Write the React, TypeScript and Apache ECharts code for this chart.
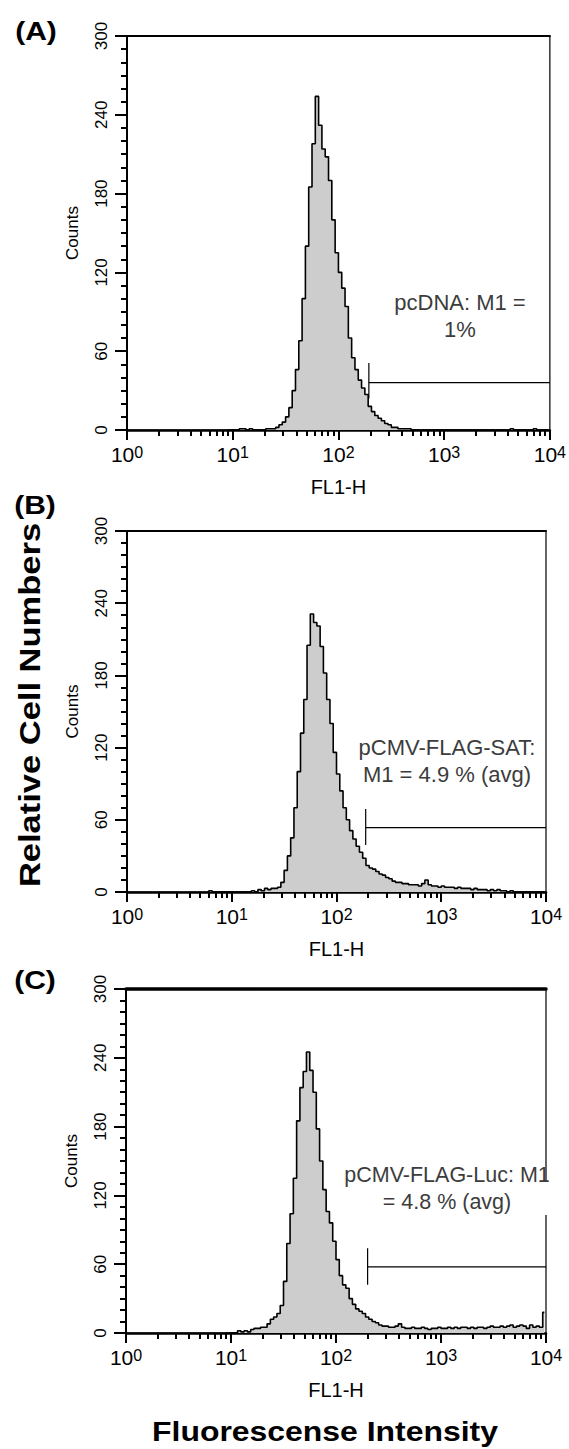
import React, { useEffect, useRef } from 'react';
import * as echarts from 'echarts';

// ---------- data ----------
const CHANNELS_PER_DECADE = 32; // histogram resolution (log channels)
const X_MIN = 1;
const X_MAX = 10000;
const X_MINOR_TICKS = [
  2, 3, 4, 5, 6, 7, 8, 9,
  20, 30, 40, 50, 60, 70, 80, 90,
  200, 300, 400, 500, 600, 700, 800, 900,
  2000, 3000, 4000, 5000, 6000, 7000, 8000, 9000,
];

// Panel A: pcDNA (first channel = 30)
const START_A = 30;
const COUNTS_A = [
  0, 0, 0, 0, 1, 1, 0, 1, 0, 0,
  0, 0, 1, 1, 1, 2, 4, 6, 10, 17,
  30, 46, 68, 100, 140, 185, 218, 254, 232, 214,
  208, 190, 160, 135, 120, 108, 94, 70, 55, 46,
  38, 32, 27, 18, 14, 11, 9, 7, 5, 4,
  2, 2, 1, 1, 1, 1, 0, 0, 0, 0,
  0, 0, 0, 0, 0, 0, 0, 0, 0, 0,
  0, 0, 0, 0, 0, 0, 0, 0, 0, 0,
  0, 0, 0, 0, 0, 0, 1, 0, 0, 0,
  0, 0, 0, 1, 0, 0, 0, 0,
];

// Panel B: pCMV-FLAG-SAT (first channel = 24)
const START_B = 24;
const COUNTS_B = [
  0, 1, 0, 0, 0, 0,
  0, 0, 0, 0, 0, 0, 0, 0, 1, 0,
  2, 1, 3, 2, 3, 3, 4, 8, 18, 30,
  45, 70, 100, 132, 160, 205, 231, 224, 221, 204,
  182, 160, 140, 116, 98, 84, 70, 60, 51, 44,
  38, 33, 28, 22, 20, 19, 17, 15, 14, 12,
  11, 9, 8, 8, 7, 7, 6, 6, 6, 5,
  7, 10, 6, 5, 5, 4, 5, 4, 4, 4,
  3, 4, 3, 3, 3, 2, 3, 2, 2, 2,
  1, 2, 1, 2, 1, 1, 0, 1, 0, 0,
  0, 0, 0, 0, 0, 0, 0, 0,
];

// Panel C: pCMV-FLAG-Luc (first channel = 30)
const START_C = 30;
const COUNTS_C = [
  0, 0, 0, 0, 2, 1, 2, 1, 3, 4,
  4, 5, 5, 8, 12, 14, 17, 24, 45, 78,
  104, 135, 185, 214, 228, 245, 229, 210, 178, 150,
  125, 106, 96, 80, 64, 50, 42, 39, 30, 25,
  21, 19, 17, 14, 12, 10, 9, 7, 6, 6,
  5, 5, 6, 8, 5, 4, 4, 5, 4, 4,
  5, 4, 3, 4, 4, 5, 4, 4, 5, 4,
  5, 4, 5, 5, 4, 5, 4, 5, 5, 4,
  5, 6, 5, 5, 6, 5, 6, 7, 5, 6,
  7, 6, 4, 7, 5, 6, 5, 18,
];

// M1 gate markers (start value, level, vertical bar low/high) per panel
const M1_START = [194, 190, 200];
const M1_LEVEL = [36, 53.5, 57.6];
const M1_LOW = [24, 39, 42];
const M1_HIGH = [51, 69, 74];

const PANEL_LETTERS = ['(A)', '(B)', '(C)'];
const PANEL_NOTES = [
  'pcDNA: M1 =\n1%',
  'pCMV-FLAG-SAT:\nM1 = 4.9 % (avg)',
  'pCMV-FLAG-Luc: M1\n= 4.8 % (avg)',
];
const Y_MAX = 300;
const Y_INTERVAL = 60;

// ---------- layout ----------
const FONT = '"Liberation Sans", Arial, Helvetica, sans-serif';
const GRIDS = [
  { left: 127, top: 36, width: 423, height: 394 },
  { left: 127, top: 531, width: 419, height: 361 },
  { left: 126, top: 989, width: 420, height: 344 },
];
const TOP_BORDER_W = [2, 2, 3.5];
const LETTER_POS = [[36, 31], [35, 505], [35, 980]];
const NOTE_POS = [[460, 316], [447, 761], [447, 1188]];
const NOTE_SIZE = [22, 22, 21.5];

function histData(start: number, counts: number[]) {
  return counts.map((c, k) => [Math.pow(10, (start + k + 0.5) / CHANNELS_PER_DECADE), c]);
}

function buildOption() {
  const starts = [START_A, START_B, START_C];
  const counts = [COUNTS_A, COUNTS_B, COUNTS_C];
  const grid: any[] = [];
  const xAxis: any[] = [];
  const yAxis: any[] = [];
  const series: any[] = [];
  const graphic: any[] = [];

  for (let i = 0; i < 3; i++) {
    grid.push({ ...GRIDS[i], show: true, borderColor: '#000', borderWidth: 1.2, containLabel: false });
    // main bottom axis (decades + labels)
    xAxis.push({
      type: 'log', logBase: 10, gridIndex: i, min: X_MIN, max: X_MAX, position: 'bottom',
      axisLine: { show: true, onZero: false, lineStyle: { color: '#000', width: 2.5 } },
      axisTick: { show: true, length: 10, lineStyle: { color: '#000', width: 2 } },
      splitLine: { show: false },
      axisLabel: {
        show: true, margin: 14, showMinLabel: true, showMaxLabel: true, hideOverlap: false,
        formatter: (v: number) => `{b|10}{s|${Math.round(Math.log10(v))}}`,
        rich: {
          b: { fontSize: 21, fontFamily: FONT, color: '#000', lineHeight: 21, verticalAlign: 'bottom' },
          s: { fontSize: 16, fontFamily: FONT, color: '#000', lineHeight: 16, verticalAlign: 'top', padding: [0, 0, 11, 0] },
        },
      },
      name: 'FL1-H', nameLocation: 'middle', nameGap: 47,
      nameTextStyle: { fontSize: 20, fontFamily: FONT, color: '#000' },
    });
    // minor log ticks
    xAxis.push({
      type: 'log', logBase: 10, gridIndex: i, min: X_MIN, max: X_MAX, position: 'bottom',
      axisLine: { show: false },
      axisTick: { show: true, length: 6, customValues: X_MINOR_TICKS, lineStyle: { color: '#000', width: 2 } },
      axisLabel: { show: false },
      splitLine: { show: false },
    });
    // top border
    xAxis.push({
      type: 'log', logBase: 10, gridIndex: i, min: X_MIN, max: X_MAX, position: 'top',
      axisLine: { show: true, onZero: false, lineStyle: { color: '#000', width: TOP_BORDER_W[i] } },
      axisTick: { show: false }, axisLabel: { show: false }, splitLine: { show: false },
    });
    yAxis.push({
      type: 'value', gridIndex: i, min: 0, max: Y_MAX, interval: Y_INTERVAL,
      axisLine: { show: true, onZero: false, lineStyle: { color: '#000', width: 2 } },
      axisTick: { show: true, length: 12, lineStyle: { color: '#000', width: 2 } },
      minorTick: { show: true, splitNumber: 6, length: 6, lineStyle: { color: '#000', width: 2 } },
      splitLine: { show: false }, minorSplitLine: { show: false },
      axisLabel: { rotate: 90, margin: 17, fontSize: 17, fontFamily: FONT, color: '#000' },
      name: 'Counts', nameLocation: 'middle', nameGap: 46, nameRotate: 90,
      nameTextStyle: { fontSize: 17, fontFamily: FONT, color: '#000' },
    });

    series.push({
      type: 'line', xAxisIndex: i * 3, yAxisIndex: i, step: 'middle', symbol: 'none', silent: true,
      data: histData(starts[i], counts[i]),
      lineStyle: { color: '#000', width: 1.6 },
      areaStyle: { color: '#cdcdcd', opacity: 1 },
      z: 3,
    });
    series.push({
      type: 'line', xAxisIndex: i * 3, yAxisIndex: i, symbol: 'none', silent: true,
      data: [[M1_START[i], M1_LEVEL[i]], [X_MAX, M1_LEVEL[i]]],
      lineStyle: { color: '#000', width: 1.2 }, z: 4,
    });
    series.push({
      type: 'line', xAxisIndex: i * 3, yAxisIndex: i, symbol: 'none', silent: true,
      data: [[M1_START[i], M1_LOW[i]], [M1_START[i], M1_HIGH[i]]],
      lineStyle: { color: '#000', width: 1.2 }, z: 4,
    });

    graphic.push({
      type: 'text', x: LETTER_POS[i][0], y: LETTER_POS[i][1], scaleX: 1.2,
      style: {
        text: PANEL_LETTERS[i], fontSize: 25, fontWeight: 'bold', fontFamily: FONT, fill: '#000',
        textAlign: 'center', textVerticalAlign: 'middle', align: 'center', verticalAlign: 'middle',
      },
    });
  }

  // white gap in panel C right border behind its note
  graphic.push({
    type: 'rect', shape: { x: 540, y: 1181, width: 12, height: 34 },
    style: { fill: '#fff' }, z: 10,
  });
  for (let i = 0; i < 3; i++) {
    graphic.push({
      type: 'text', x: NOTE_POS[i][0], y: NOTE_POS[i][1], z: 11,
      style: {
        text: PANEL_NOTES[i], fontSize: NOTE_SIZE[i], fontFamily: FONT, fill: '#3c3c3c',
        lineHeight: 27, textAlign: 'center', textVerticalAlign: 'middle', align: 'center', verticalAlign: 'middle',
      },
    });
  }
  graphic.push({
    type: 'text', x: 30, y: 705, rotation: Math.PI / 2, scaleX: 1.15,
    style: {
      text: 'Relative Cell Numbers', fontSize: 30, fontWeight: 'bold', fontFamily: FONT, fill: '#000',
      textAlign: 'center', textVerticalAlign: 'middle', align: 'center', verticalAlign: 'middle',
    },
  });
  graphic.push({
    type: 'text', x: 325, y: 1431, scaleX: 1.14,
    style: {
      text: 'Fluorescense Intensity', fontSize: 28, fontWeight: 'bold', fontFamily: FONT, fill: '#000',
      textAlign: 'center', textVerticalAlign: 'middle', align: 'center', verticalAlign: 'middle',
    },
  });

  return {
    animation: false,
    backgroundColor: '#fff',
    grid, xAxis, yAxis, series, graphic,
  };
}

export default function App() {
  const ref = useRef<HTMLDivElement>(null);
  useEffect(() => {
    document.body.style.margin = '0';
    const chart = echarts.init(ref.current as HTMLDivElement, null, { renderer: 'svg' });
    chart.setOption(buildOption() as any);
    return () => chart.dispose();
  }, []);
  return (
    <div
      ref={ref}
      style={{ position: 'absolute', left: 0, top: 0, width: 569, height: 1449, background: '#fff' }}
    />
  );
}
